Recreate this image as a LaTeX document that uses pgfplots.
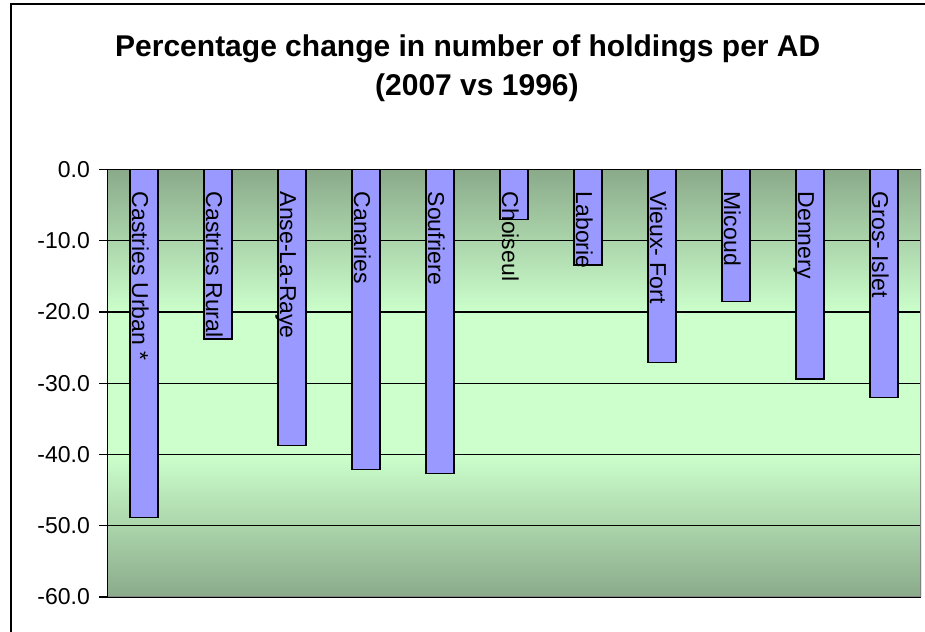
\documentclass[border=0pt]{standalone}
\usepackage{pgfplots}
\pgfplotsset{compat=1.18}
\usepackage{pgfplotstable}
\usepackage{fontspec}
\setmainfont{Liberation Sans}

\definecolor{barblue}{HTML}{9999FF}
\definecolor{bgdark}{HTML}{8AAA8A}
\definecolor{bglight}{HTML}{CCFFCC}
% dark at 0 and -60, light between -20 and -40
\pgfdeclareverticalshading{plotbg}{100bp}{color(0bp)=(bgdark); color(25bp)=(bgdark);
  color(41.67bp)=(bglight); color(58.33bp)=(bglight); color(75bp)=(bgdark); color(100bp)=(bgdark)}

\pgfplotstableread[col sep=comma]{
idx,val,name
0,-48.8,Castries Urban *
1,-23.8,Castries Rural
2,-38.7,Anse-La-Raye
3,-42.1,Canaries
4,-42.7,Soufriere
5,-7.0,Choiseul
6,-13.4,Laborie
7,-27.1,Vieux- Fort
8,-18.5,Micoud
9,-29.4,Dennery
10,-32.0,Gros- Islet
}\holdings

\begin{document}
\begin{tikzpicture}[x=1bp,y=1bp]
\useasboundingbox (0,0) rectangle (925,632);
\draw[line width=2bp] (11,0) -- (11,628) -- (925,628);

\node[anchor=base west, inner sep=0pt, font=\bfseries\fontsize{30bp}{36bp}\selectfont]
  at (115,575.3) {Percentage change in number of holdings per AD};
\node[anchor=base west, inner sep=0pt, font=\bfseries\fontsize{30bp}{36bp}\selectfont]
  at (375,536) {(2007 vs 1996)};

\begin{axis}[
  at={(107bp,35bp)}, anchor=south west,
  scale only axis, width=814bp, height=427.5bp,
  xmin=-0.5, xmax=10.5, ymin=-60, ymax=0,
  xtick=\empty,
  ytick={-60,-50,...,0},
  ytick pos=left, tick align=outside,
  major tick length=8bp,
  tick style={black, line width=1.2bp},
  ymajorgrids, major grid style={black, line width=1.2bp},
  axis line style={draw=none},
  axis background/.style={shade, shading=plotbg},
  yticklabel style={font=\fontsize{23bp}{27bp}\selectfont, inner sep=0pt, xshift=-9bp},
  /pgf/number format/assume math mode=true,
  /pgf/number format/.cd, fixed, fixed zerofill, precision=1,
]
\addplot[ybar, bar width=28bp, fill=barblue, draw=black, line width=1.3bp]
  table[x=idx, y=val] {\holdings};
\addplot[draw=none, mark=none, nodes near coords, point meta=explicit symbolic,
  nodes near coords style={xshift=-12bp, yshift=-22bp, rotate=-90, anchor=base west,
    inner sep=0pt, font=\fontsize{23bp}{27bp}\selectfont}]
  table[x=idx, y expr=0, meta=name] {\holdings};
\draw[gray, line width=2bp] (rel axis cs:0,0) -- (rel axis cs:1,0) -- (rel axis cs:1,1);
\draw[black, line width=1.5bp] (rel axis cs:1,1) -- (rel axis cs:0,1) -- (rel axis cs:0,0);
\end{axis}
\end{tikzpicture}
\end{document}
